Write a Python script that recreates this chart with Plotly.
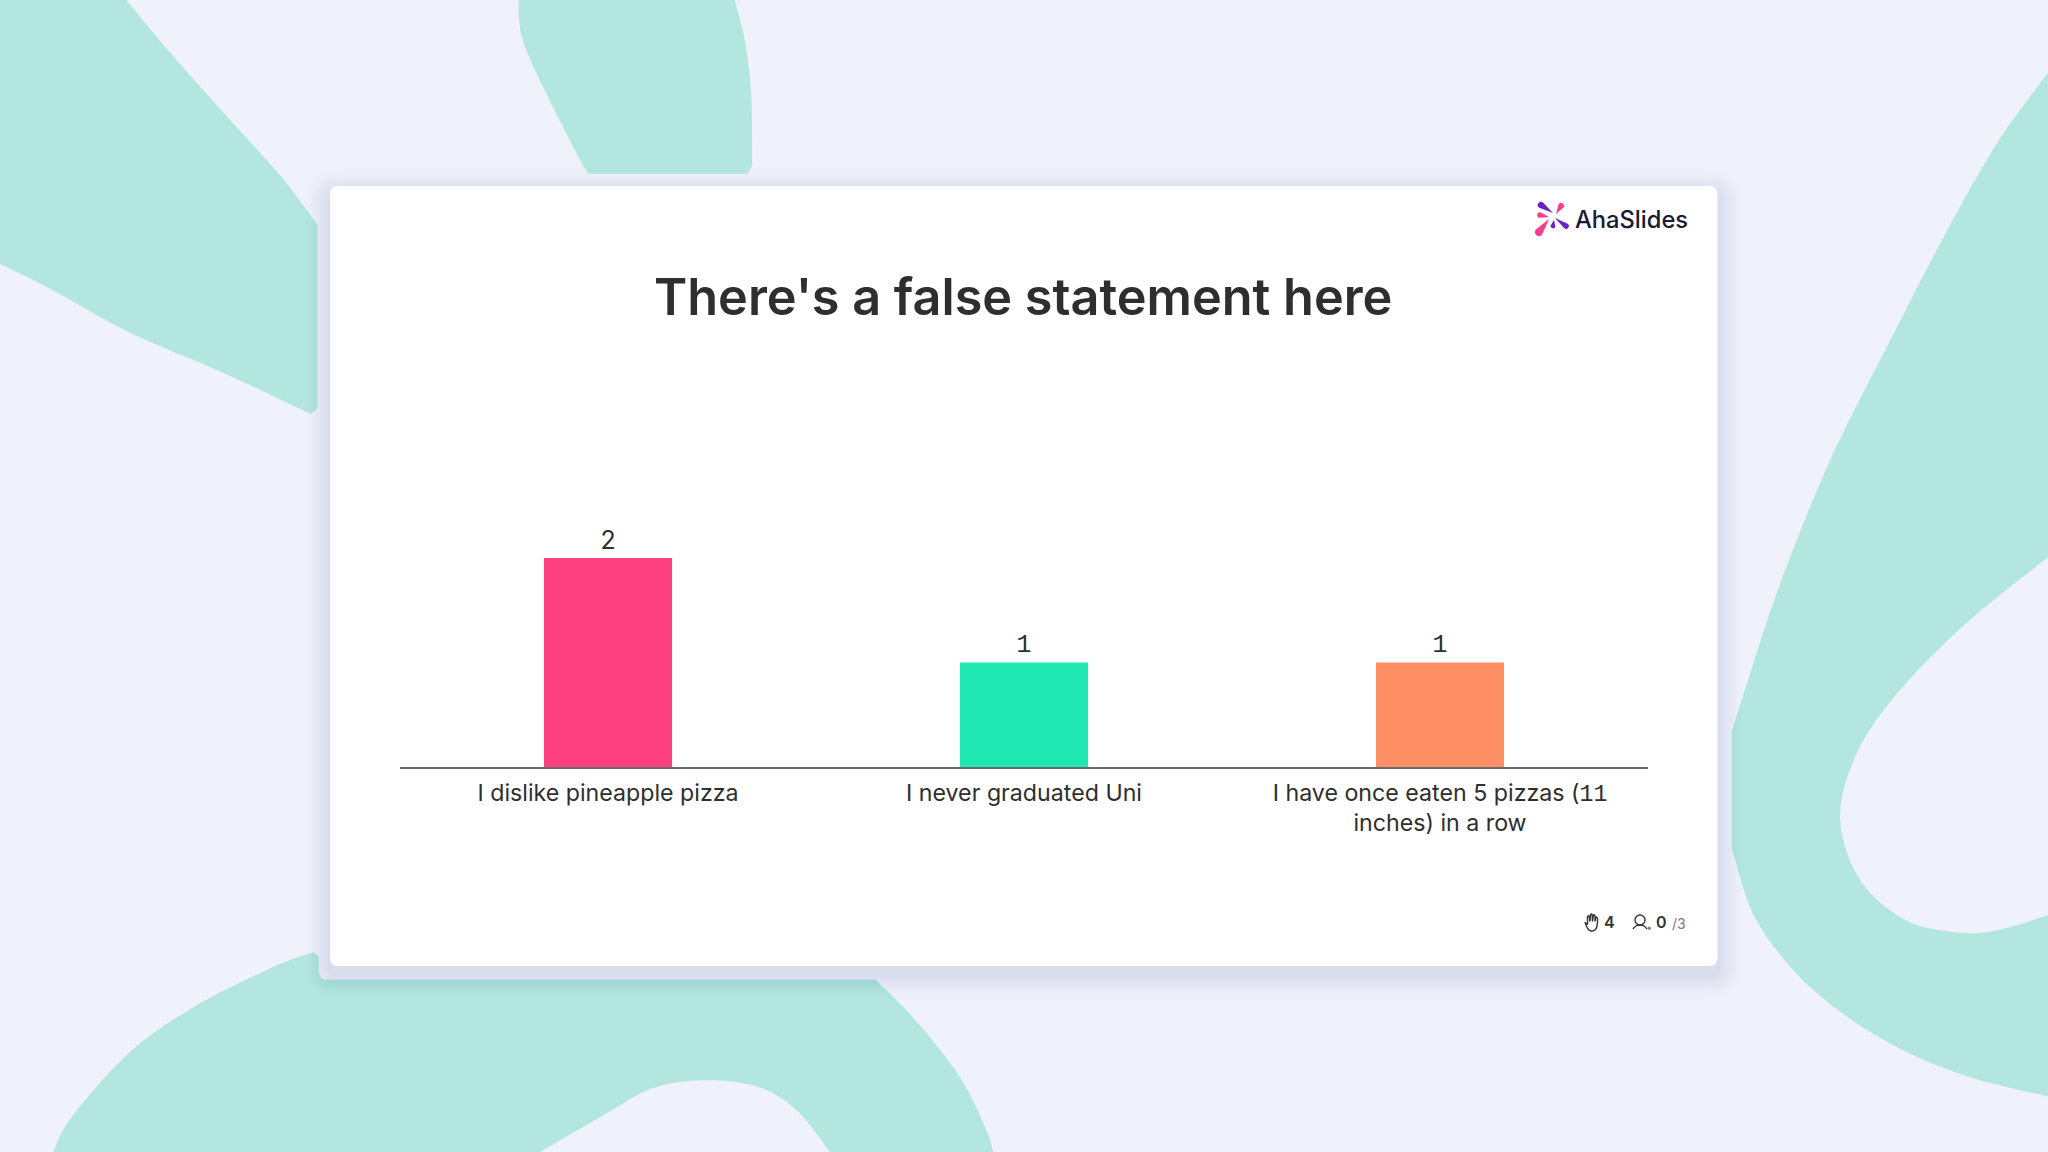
import plotly.graph_objects as go

# ---- data ----
categories = [
    "I dislike pineapple pizza",
    "I never graduated Uni",
    "I have once eaten 5 pizzas (<span style='font-family:Liberation Mono'>11</span><br>inches) in a row",
]
values = [2, 1, 1]
bar_colors = ["#FF4080", "#1FE8B3", "#FF9066"]
value_fonts = ["Inter", "Liberation Mono", "Liberation Mono"]
title_text = "There's a false statement here"

W, H = 2048, 1152
BG = "#EFF2FB"
BLOB = "#B2E6DE"
TXT = "#2E2E2E"
S = 2048 / 1568  # outlines below were read in the 1568-wide view


def px(x):
    return x / W


def py(y):
    return 1 - y / H


def sm(pts, closed=False):
    """Catmull-Rom through pts as an SVG path in paper coordinates."""
    n = len(pts)
    d = f"M{px(pts[0][0]):.5f},{py(pts[0][1]):.5f}"
    for i in range(n - 1):
        p0 = pts[max(i - 1, 0)]
        p1 = pts[i]
        p2 = pts[i + 1]
        p3 = pts[min(i + 2, n - 1)]
        c1 = (p1[0] + (p2[0] - p0[0]) / 6, p1[1] + (p2[1] - p0[1]) / 6)
        c2 = (p2[0] - (p3[0] - p1[0]) / 6, p2[1] - (p3[1] - p1[1]) / 6)
        d += (f"C{px(c1[0]):.5f},{py(c1[1]):.5f} {px(c2[0]):.5f},{py(c2[1]):.5f} "
              f"{px(p2[0]):.5f},{py(p2[1]):.5f}")
    return d + ("Z" if closed else "")


def rrect(x0, y0, x1, y1, r):
    pts = [
        f"M{px(x0 + r):.5f},{py(y0):.5f}", f"L{px(x1 - r):.5f},{py(y0):.5f}",
        f"Q{px(x1):.5f},{py(y0):.5f} {px(x1):.5f},{py(y0 + r):.5f}",
        f"L{px(x1):.5f},{py(y1 - r):.5f}",
        f"Q{px(x1):.5f},{py(y1):.5f} {px(x1 - r):.5f},{py(y1):.5f}",
        f"L{px(x0 + r):.5f},{py(y1):.5f}",
        f"Q{px(x0):.5f},{py(y1):.5f} {px(x0):.5f},{py(y1 - r):.5f}",
        f"L{px(x0):.5f},{py(y0 + r):.5f}",
        f"Q{px(x0):.5f},{py(y0):.5f} {px(x0 + r):.5f},{py(y0):.5f}Z",
    ]
    return "".join(pts)


def petal(a, b, w, color):
    """Tapered leaf from a (thin end) to b (thick end)."""
    dx, dy = b[0] - a[0], b[1] - a[1]
    L = (dx * dx + dy * dy) ** 0.5
    nx, ny = -dy / L * w, dx / L * w
    ex, ey = b[0] + dx / L * w, b[1] + dy / L * w
    path = (f"M{px(a[0]):.5f},{py(a[1]):.5f}"
            f"L{px(b[0] + nx):.5f},{py(b[1] + ny):.5f}"
            f"Q{px(ex + nx):.5f},{py(ey + ny):.5f} {px(ex):.5f},{py(ey):.5f}"
            f"Q{px(ex - nx):.5f},{py(ey - ny):.5f} {px(b[0] - nx):.5f},{py(b[1] - ny):.5f}Z")
    return dict(type="path", xref="paper", yref="paper", path=path,
                fillcolor=color, line=dict(width=0), layer="below")


def filled(path, color=BLOB, **kw):
    return dict(type="path", xref="paper", yref="paper", path=path,
                fillcolor=color, line=dict(width=0), layer="below", **kw)


scale = lambda pts: [(x * S, y * S) for x, y in pts]


def join(*segs):
    """Chain smooth segments; sharp corners sit where the segments meet."""
    out = sm(segs[0])
    for s in segs[1:]:
        out += "L" + sm(s)[1:]
    return out + "Z"


shapes = []

# background blobs
shapes.append(filled(join(
    scale([(0, -2), (95, -2)]),
    scale([(95, -2), (130, 40), (170, 85), (215, 135), (243, 172)]),
    scale([(243, 172), (243, 313)]),
    scale([(238, 317), (170, 285), (100, 255), (40, 222), (0, 202)]),
)))
shapes.append(filled(join(
    scale([(397, -2), (400, 30), (420, 75), (447, 128)]),
    scale([(451, 133), (572, 133)]),
    scale([(576, 127), (575, 70), (570, 30), (562, -2)]),
)))
shapes.append(filled(join(
    scale([(40, 884), (55, 855), (100, 805), (150, 770), (210, 740), (240, 729)]),
    scale([(244, 732), (244, 745)]),
    scale([(247, 750), (670, 750)]),
    scale([(670, 750), (700, 780), (735, 825), (755, 865), (761, 884)]),
    scale([(637, 884), (610, 850), (580, 832), (540, 827), (500, 833), (460, 855), (410, 884)]),
)))
shapes.append(filled(join(
    scale([(1570, 53), (1530, 108), (1490, 178), (1445, 265), (1400, 355), (1360, 455), (1326, 560)]),
    scale([(1326, 560), (1326, 650)]),
    scale([(1326, 650), (1345, 705), (1385, 755), (1440, 795), (1500, 822), (1570, 840)]),
    scale([(1570, 700), (1530, 712), (1500, 714), (1460, 705), (1425, 675), (1409, 630), (1418, 585), (1445, 540),
           (1500, 482), (1570, 425)]),
)))

# card shadow and card
CX0, CY0, CX1, CY1 = 330, 186, 1717.5, 966
for e in range(26, 0, -2):
    a = 0.003 + 0.0008 * (26 - e) / 2
    shapes.append(filled(rrect(CX0 - e, CY0 + 8 - e, CX1 + e, CY1 + 8 + e, 8 + e), f"rgba(50,55,90,{a:.4f})"))
shapes.append(filled(rrect(CX0, CY0, CX1, CY1, 8), "#FFFFFF"))

# logo mark
PUR, PNK = "#6B21C8", "#FF3D8B"
shapes += [
    petal((1553, 213), (1541, 205), 3.2, PUR),
    petal((1556, 214), (1561, 206), 3.0, PNK),
    petal((1549, 217), (1540, 215), 2.8, PNK),
    petal((1549, 219), (1539, 232), 4.0, PNK),
    petal((1554, 220), (1553, 226), 2.4, PUR),
    petal((1555, 218), (1566, 226), 2.8, PUR),
]

# footer icons
HAND = dict(type="path", xref="paper", yref="paper", line=dict(color="#333333", width=1.4),
            fillcolor="rgba(0,0,0,0)", layer="below")
shapes.append(dict(HAND, path=sm([(1585, 922), (1586, 925), (1588, 929), (1591, 931), (1595, 930), (1597, 926),
                                  (1597.5, 919), (1596, 917), (1595, 921), (1595, 916), (1593.5, 915), (1592.5, 921),
                                  (1592, 914.5), (1590.5, 915), (1590, 921), (1589, 916), (1587.5, 917), (1587.5, 924),
                                  (1585, 922)])))
shapes.append(dict(type="circle", xref="paper", yref="paper", x0=px(1635), x1=px(1645), y0=py(925), y1=py(915),
                   line=dict(color="#333333", width=1.4), layer="below"))
shapes.append(dict(HAND, path=sm([(1633, 929), (1636, 926), (1640, 925), (1644, 926), (1647, 929)])))
shapes.append(dict(type="circle", xref="paper", yref="paper", x0=px(1647.5), x1=px(1651), y0=py(930), y1=py(926.5),
                   fillcolor="#8A8A8A", line=dict(width=0), layer="below"))


def note(x, y, text, size, color=TXT, anchor="center", weight=400, family="Inter"):
    return dict(x=px(x), y=py(y), xref="paper", yref="paper", text=text, showarrow=False,
                xanchor=anchor, yanchor="middle", font=dict(family=family, size=size, color=color, weight=weight))


annotations = [
    note(1023, 296, title_text, 50.4, weight=600),
    note(1573, 219.5, "AhaSlides", 23.7, "#1A1A33", "left", 500),
    note(1609, 922, "4", 16, "#333333", weight=600),
    note(1661, 922, "0", 16, "#333333", weight=600),
    note(1679, 923.5, "/3", 14, "#777777"),
]

fig = go.Figure(go.Bar(
    x=categories, y=values,
    marker=dict(color=bar_colors, line=dict(width=0)),
    text=[str(v) for v in values], textposition="outside", cliponaxis=False,
    textfont=dict(family=value_fonts, size=25, color=TXT),
    hoverinfo="skip",
))

fig.update_layout(
    width=W, height=H, margin=dict(l=0, r=0, t=0, b=0),
    paper_bgcolor=BG, plot_bgcolor="rgba(0,0,0,0)",
    showlegend=False, bargap=0.692,
    shapes=shapes, annotations=annotations,
    xaxis=dict(domain=[px(400), px(1648)], type="category", categoryorder="array", categoryarray=categories,
               range=[-0.5, 2.5], showgrid=False, zeroline=False,
               showline=True, linecolor="#6B6B6B", linewidth=1.5,
               ticks="outside", ticklen=4, tickcolor="rgba(0,0,0,0)", tickangle=0,
               tickfont=dict(family="Inter", size=23.2, color=TXT)),
    yaxis=dict(domain=[py(767), py(349)], range=[0, 4], visible=False),
)

fig.write_html("out.html", config={"displayModeBar": False},
               post_script="document.body.style.margin='0';document.body.style.overflow='hidden';")
